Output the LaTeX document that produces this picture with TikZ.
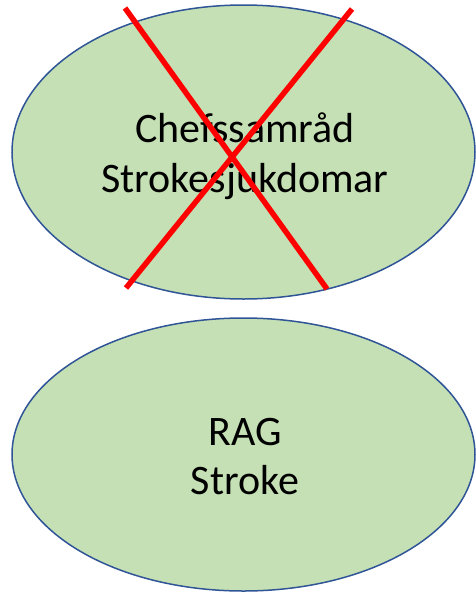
\documentclass[tikz,border=0pt]{standalone}
\usepackage{fontspec}
\setmainfont{Carlito}
\usetikzlibrary{shapes.geometric}
\definecolor{fillgreen}{HTML}{C5E0B4}
\definecolor{edgeblue}{HTML}{2F5597}
\tikzset{
  oval/.style={ellipse, draw=edgeblue, fill=fillgreen, line width=1.5pt, inner sep=0pt},
  lbl/.style={anchor=base, inner sep=0pt, font=\fontsize{42}{50}\selectfont},
  cross/.style={draw=red, line width=5.5pt}
}
\begin{document}
\begin{tikzpicture}[x=1pt,y=-1pt]
\useasboundingbox (0,0) rectangle (475,592);
\node[oval, minimum width=463pt, minimum height=294pt] (top) at (243.5,152) {};
\node[oval, minimum width=463pt, minimum height=273pt] (bot) at (243.5,454.5) {};
\node[lbl] (t1) at (245,142) {Chefssamråd};
\node[lbl] (t2) at (245,192) {Strokesjukdomar};
\node[lbl] (b1) at (245,445) {RAG};
\node[lbl] (b2) at (245,494) {Stroke};
\coordinate (a1) at (125,8);
\coordinate (a2) at (327,289);
\coordinate (c1) at (352,9);
\coordinate (c2) at (126,288);
\draw[cross] (a1) -- (a2);
\draw[cross] (c1) -- (c2);
\end{tikzpicture}
\end{document}
